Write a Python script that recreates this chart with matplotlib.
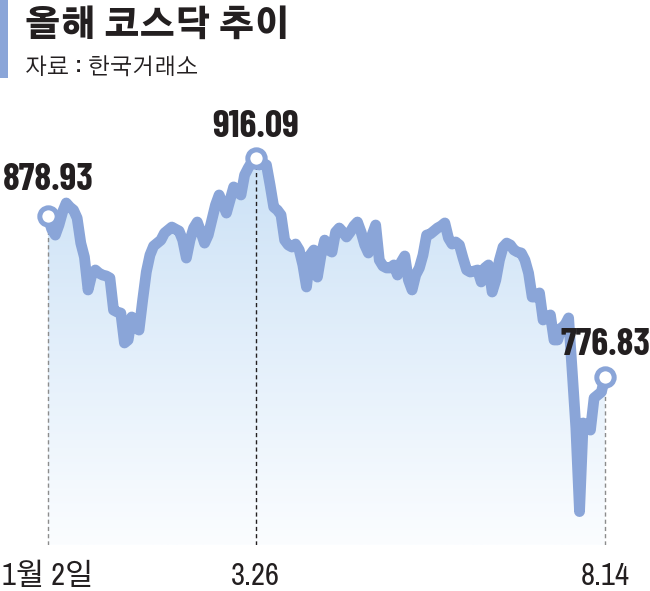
import numpy as np
import matplotlib
matplotlib.use("Agg")
import matplotlib.pyplot as plt
from matplotlib.colors import LinearSegmentedColormap
from matplotlib.patches import Rectangle

# KOSDAQ daily close, 2024-01-02 .. 2024-08-14
kosdaq = [
    878.93, 870.9, 867.1, 873.5, 881.8, 887.5, 884.9, 883.0, 877.9, 862.0,
    853.1, 832.2, 841.7, 844.9, 842.9, 841.7, 841.1, 839.8, 819.4, 818.2,
    817.5, 798.5, 800.4, 815.0, 808.0, 806.7, 825.8, 843.6, 854.4, 860.1,
    862.0, 863.9, 868.4, 870.3, 872.2, 870.9, 869.7, 863.9, 852.5, 863.9,
    871.6, 875.4, 869.0, 862.0, 867.1, 876.7, 886.2, 892.6, 886.8, 881.1,
    889.4, 897.7, 894.5, 892.6, 905.3, 909.8, 913.6, 916.09, 911.7, 912.9,
    911.7, 898.9, 884.9, 883.0, 879.9, 863.9, 860.8, 859.5, 861.4, 857.6,
    848.1, 834.1, 854.4, 857.6, 840.4, 854.4, 863.9, 857.6, 856.3, 869.0,
    871.6, 869.0, 865.9, 869.0, 872.9, 875.4, 869.0, 860.8, 855.7, 867.1,
    873.5, 851.2, 847.4, 846.2, 846.2, 848.1, 841.7, 849.9, 853.8, 838.5,
    832.2, 841.7, 846.2, 854.4, 867.1, 867.8, 869.7, 871.6, 872.9, 874.8,
    865.2, 861.4, 862.7, 860.8, 852.5, 844.9, 843.6, 844.2, 844.9, 837.3,
    846.2, 848.1, 830.9, 838.5, 851.2, 859.5, 862.0, 860.8, 857.6, 856.3,
    855.7, 851.2, 842.9, 827.7, 827.7, 830.3, 813.1, 815.0, 816.3, 800.4,
    800.4, 808.0, 809.9, 814.4, 780.0, 744.4, 691.28, 747.6, 746.3, 743.1,
    763.5, 765.4, 767.3, 776.83,
]
mark_idx = [0, 57, 153]
mark_dates = ["1월 2일", "3.26", "8.14"]
mark_labels = ["878.93", "916.09", "776.83"]

title = "올해 코스닥 추이"
source = "자료 : 한국거래소"

BLUE = "#8aa5d8"
TXT = "#231f20"
NUM_FONT = ["Archivo Narrow", "Noto Sans CJK KR", "DejaVu Sans"]
BOLD_FONT = ["Barlow Condensed", "Noto Sans CJK KR", "DejaVu Sans"]
KR_FONT = ["Gothic A1", "Noto Sans CJK KR", "DejaVu Sans"]

x = np.arange(len(kosdaq))
y = np.array(kosdaq)
ybot, ytop = 670.0, 953.0

fig = plt.figure(figsize=(6.5, 5.91), dpi=100)
ax = fig.add_axes([0, 0.0778, 1, 0.753])
ax.axis("off")

# gradient fill under the line
poly = ax.fill_between(x, y, ybot, color="none", lw=0)
cmap = LinearSegmentedColormap.from_list("fill", ["#fbfdff", "#cbe1f6"])
grad = np.linspace(1, 0, 256).reshape(-1, 1)
im = ax.imshow(grad, extent=[x[0], x[-1], ybot, y.max()], origin="upper",
               cmap=cmap, aspect="auto", zorder=1)
im.set_clip_path(poly.get_paths()[0], ax.transData)
ax.set_xlim(-13.19, 165.36)
ax.set_ylim(ybot, ytop)

# dashed guides
for k, i in enumerate(mark_idx):
    c = TXT if k == 1 else "#8c8c8c"
    ax.vlines(x[i], ybot, y[i], colors=c, lw=1.0,
              linestyles=(0, (3, 2.2)), zorder=2)

ax.plot(x, y, color=BLUE, lw=7.8, solid_joinstyle="round",
        solid_capstyle="round", zorder=3)
ax.plot(x[mark_idx], y[mark_idx], "o", ms=12.5, mfc="white", mec=BLUE,
        mew=3.6, zorder=4)

# value labels
offs = [26, 21, 22]
for i, lab, o in zip(mark_idx, mark_labels, offs):
    ax.annotate(lab, (x[i], y[i]), xytext=(0, o * 0.72), textcoords="offset points",
                ha="center", va="baseline", fontsize=27.5, fontweight="bold",
                color=TXT, family=BOLD_FONT, zorder=5, annotation_clip=False)

# date labels
for i, lab in zip(mark_idx, mark_dates):
    ax.annotate(lab, (x[i], 0), xycoords=("data", "axes fraction"),
                xytext=(0, -40 * 0.72), textcoords="offset points",
                ha="center", va="baseline", fontsize=22, color=TXT,
                family=NUM_FONT, annotation_clip=False)

# header
fig.patches.append(Rectangle((0, 1 - 78 / 591), 8 / 650, 78 / 591,
                             transform=fig.transFigure, color=BLUE, lw=0))
fig.text(25 / 650, 1 - 36 / 591, title, fontsize=25, fontweight=900,
         color=TXT, family=KR_FONT, va="baseline")
fig.text(25 / 650, 1 - 75 / 591, source, fontsize=16.5, color=TXT,
         family=KR_FONT, va="baseline")

fig.savefig("out.png", dpi=100)
